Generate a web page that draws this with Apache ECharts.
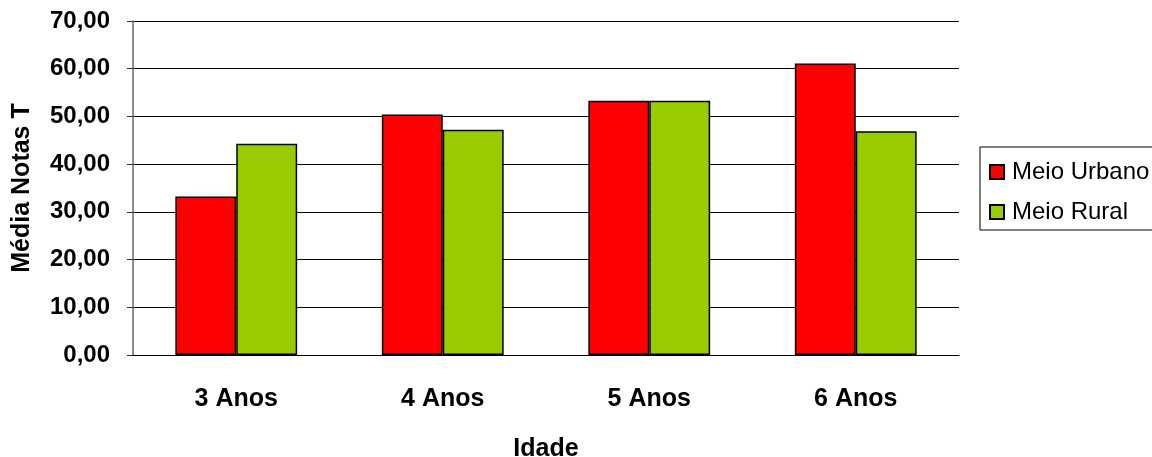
<!DOCTYPE html>
<html>
<head>
<meta charset="utf-8">
<script src="https://cdn.jsdelivr.net/npm/echarts@6/dist/echarts.min.js"></script>
<style>
html,body{margin:0;padding:0;background:#fff;}
#chart{width:1152px;height:457px;}
</style>
</head>
<body>
<div id="chart"></div>
<script>
const categories = ['3 Anos', '4 Anos', '5 Anos', '6 Anos'];
const urbano = [33.2, 50.4, 53.3, 61.1];
const rural = [44.3, 47.2, 53.3, 46.9];
const seriesNames = ['Meio Urbano', 'Meio Rural'];
const yAxisName = 'Média Notas T';
const xAxisName = 'Idade';

const FONT = 'Liberation Sans, Arial, sans-serif';
const chart = echarts.init(document.getElementById('chart'), null, {renderer: 'canvas'});
chart.setOption({
  animation: false,
  backgroundColor: '#fff',
  grid: {left: 133, right: 193, top: 21, bottom: 102, containLabel: false, outerBoundsMode: 'none'},
  legend: {
    orient: 'vertical',
    left: 980,
    top: 147,
    padding: [13, 40, 6, 9],
    itemGap: 16,
    itemWidth: 14,
    itemHeight: 14,
    icon: 'rect',
    borderColor: '#000',
    borderWidth: 1,
    textStyle: {fontFamily: FONT, fontSize: 24, color: '#000', padding: [0, 0, 0, 3]},
    data: seriesNames
  },
  xAxis: {
    type: 'category',
    data: categories,
    name: xAxisName,
    nameLocation: 'middle',
    nameGap: 82,
    nameTextStyle: {fontFamily: FONT, fontSize: 25, fontWeight: 'bold', color: '#000'},
    axisLine: {show: true, lineStyle: {color: '#000', width: 1}},
    axisTick: {show: false},
    axisLabel: {fontFamily: FONT, fontSize: 25, fontWeight: 'bold', color: '#000', margin: 32}
  },
  yAxis: {
    type: 'value',
    min: 0,
    max: 70,
    interval: 10,
    name: yAxisName,
    nameLocation: 'middle',
    nameGap: 98,
    nameTextStyle: {fontFamily: FONT, fontSize: 25, fontWeight: 'bold', color: '#000'},
    axisLine: {show: true, lineStyle: {color: '#666', width: 1.5}},
    axisTick: {show: true, length: 6, lineStyle: {color: '#333'}},
    axisLabel: {
      fontFamily: FONT, fontSize: 24, fontWeight: 'bold', color: '#000', margin: 23,
      formatter: v => v.toFixed(2).replace('.', ',')
    },
    splitLine: {show: true, lineStyle: {color: '#000', width: 1}}
  },
  series: [
    {
      name: seriesNames[0], type: 'bar', data: urbano,
      barGap: '0%', barCategoryGap: '41%',
      itemStyle: {color: '#FF0000', borderColor: '#000', borderWidth: 1.5}
    },
    {
      name: seriesNames[1], type: 'bar', data: rural,
      barGap: '0%', barCategoryGap: '41%',
      itemStyle: {color: '#99CC00', borderColor: '#000', borderWidth: 1.5}
    }
  ]
});
</script>
</body>
</html>
